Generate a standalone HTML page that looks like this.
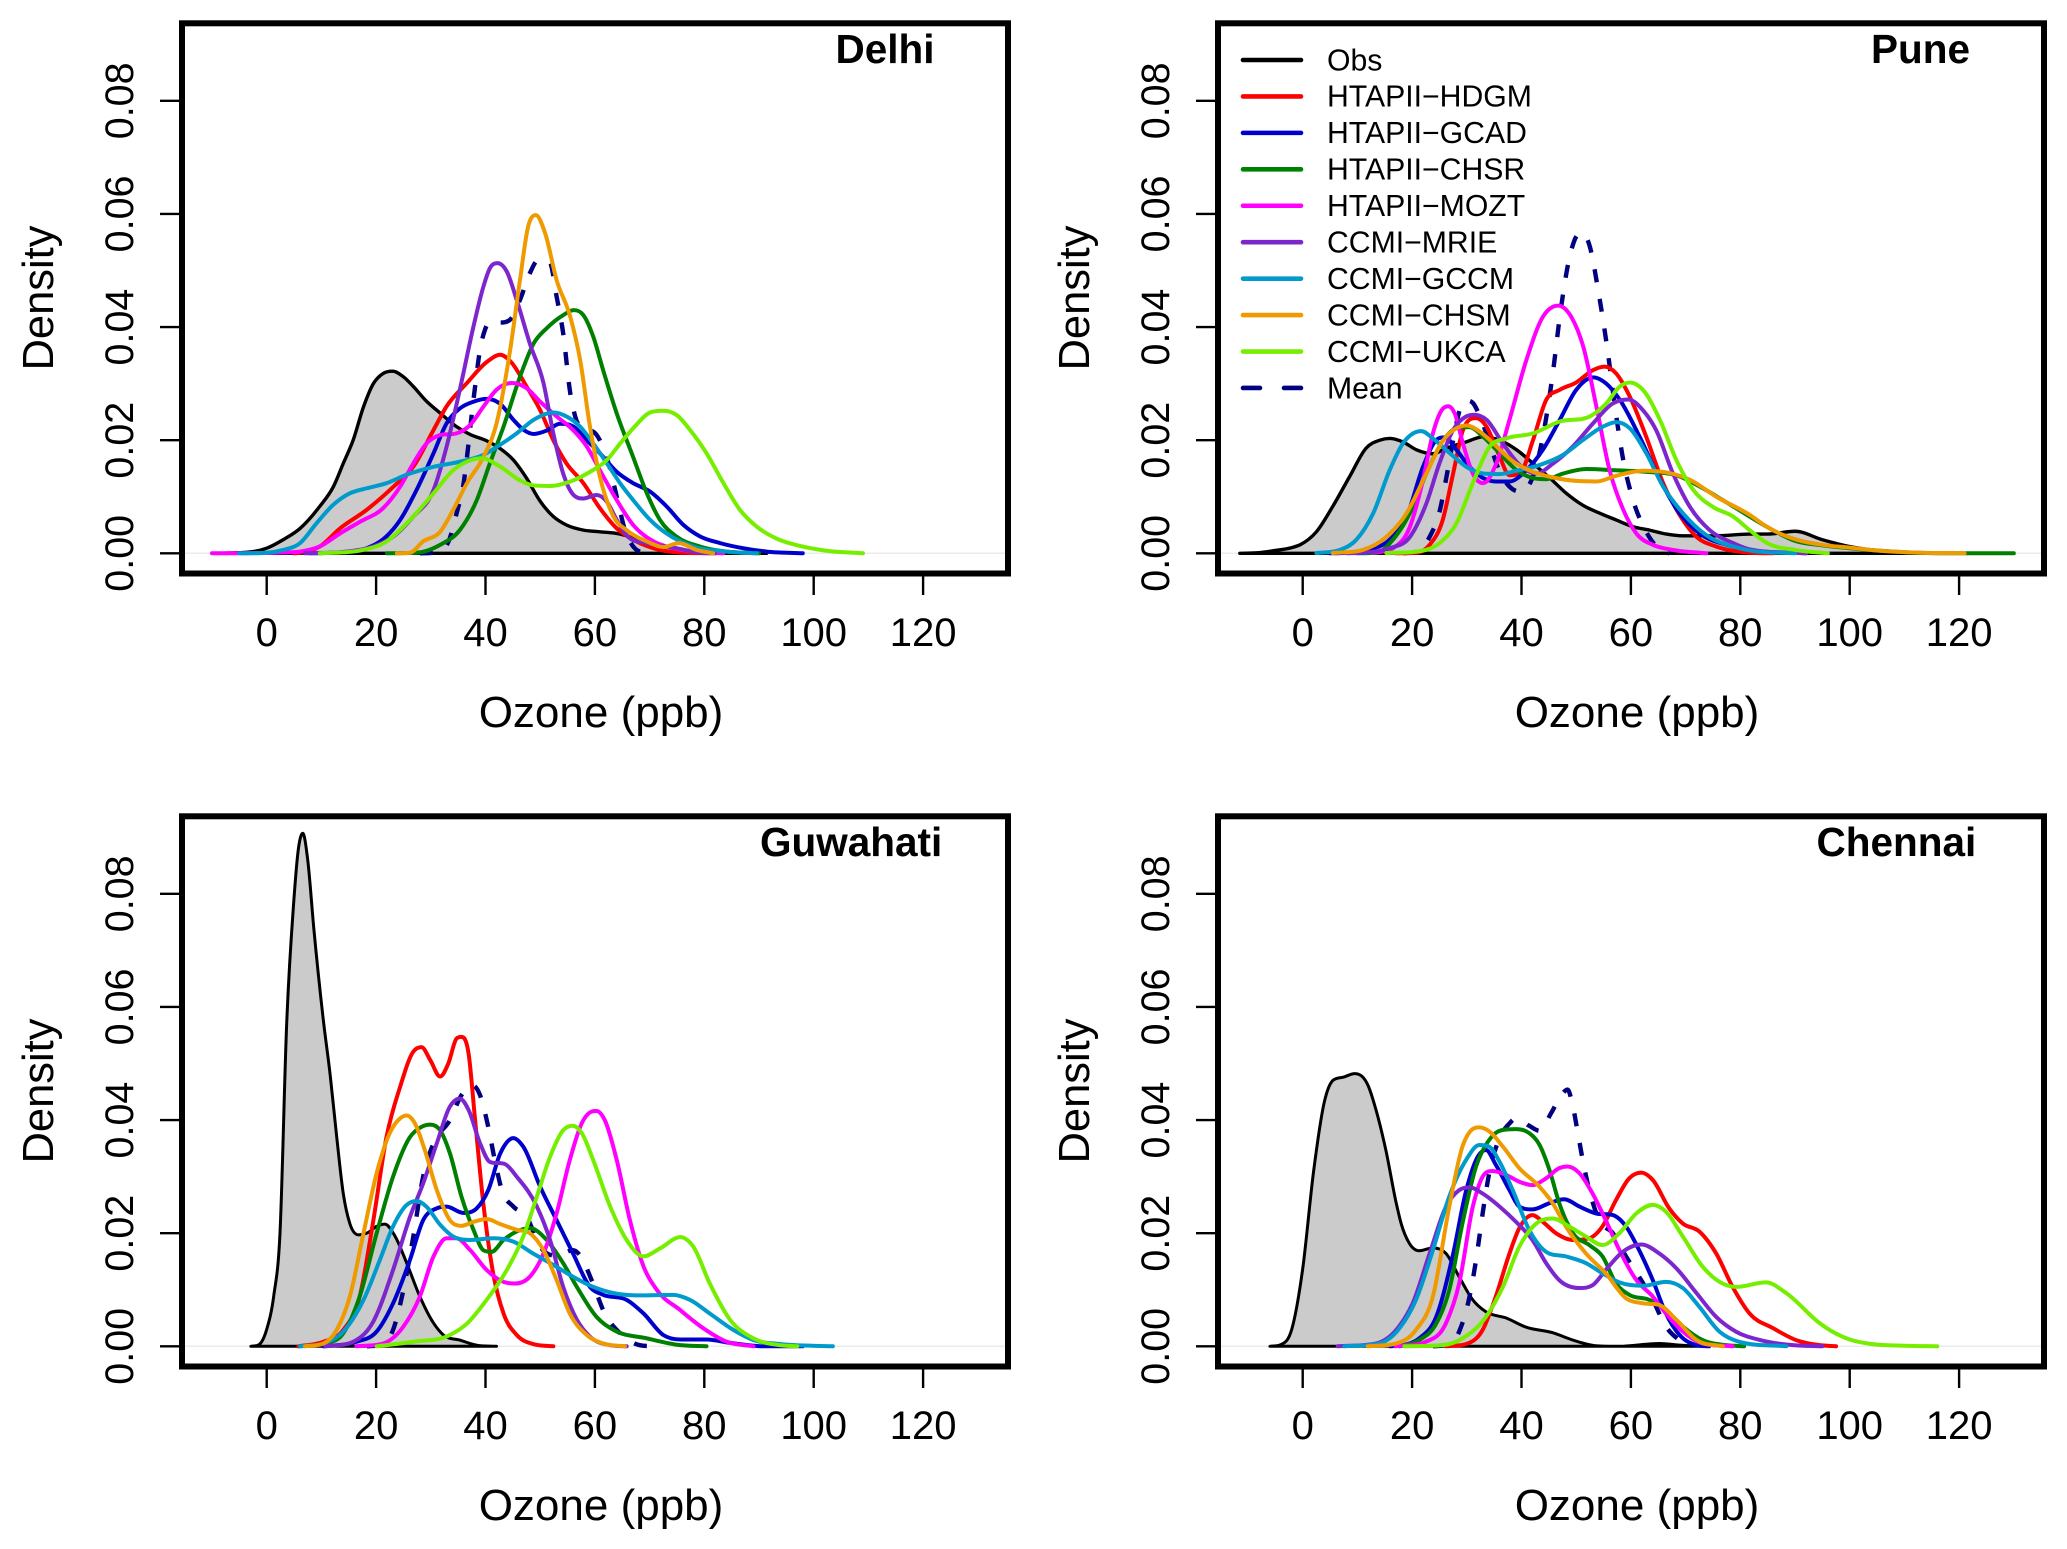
<!DOCTYPE html>
<html lang="en">
<head>
<meta charset="utf-8">
<title>Ozone density by city</title>
<style>
html,body{margin:0;padding:0;background:#fff}
svg{display:block;font-family:"Liberation Sans",sans-serif}
</style>
</head>
<body>
<svg id="figure" width="2067" height="1549" viewBox="0 0 2067 1549" xmlns="http://www.w3.org/2000/svg"></svg>
<script>
/* Density values are stored in units of 0.001; x values are ozone in ppb. */
const xTicks=[0,20,40,60,80,100,120];
const yTicks=[0,0.02,0.04,0.06,0.08];
const yTickLabels=['0.00','0.02','0.04','0.06','0.08'];
const xTitle='Ozone (ppb)';
const yTitle='Density';
const cities=['Delhi','Pune','Guwahati','Chennai'];
const seriesNames=['Obs','HTAPII\u2212HDGM','HTAPII\u2212GCAD','HTAPII\u2212CHSR','HTAPII\u2212MOZT','CCMI\u2212MRIE','CCMI\u2212GCCM','CCMI\u2212CHSM','CCMI\u2212UKCA','Mean'];

const delhiObs=[[-10,0],[-5,.1],[0,.9],[3,2.4],[6.1,4.4],[9.7,8.3],[12.2,11.8],[14,15.9],[15.8,20],[17.7,25.9],[19.5,30],[21.3,31.8],[23,32.2],[25,31.2],[26.8,29.5],[29,27.1],[31.7,24.8],[34.7,22.4],[37.2,21],[40.2,19.9],[42.7,18.5],[45.1,16.5],[47.5,13.3],[50,9.2],[52.4,6.5],[54.8,5],[57.9,4.1],[60.9,3.8],[64.6,3.4],[67,2.7],[70.1,1.2],[73.1,.3],[79.2,0],[91.4,0]];
const delhiHdgm=[[5,0],[6.1,.1],[9.7,1.2],[13.4,4.4],[18.3,7.7],[23.2,11.8],[26.8,15.3],[30.5,21.8],[32.9,26],[36.6,30.1],[40.2,33.8],[42.7,35.1],[44.5,34],[47.5,29.5],[50,25.3],[52.4,20],[54.8,15.9],[57.9,12.4],[60.9,8],[64,4.4],[67,2.4],[70.7,.9],[76.2,.1],[82,0]];
const delhiGcad=[[8,0],[12.2,.1],[18.3,.9],[21.9,3],[24.4,5.9],[27.4,11.2],[30.5,17.7],[32.9,23],[35.3,25.6],[37.8,26.8],[40.2,27.3],[42.7,26.4],[45.1,23.6],[47,21.8],[48.8,21.1],[51.2,21.7],[53.6,22.9],[56.1,22.4],[58.5,20],[60.9,17.7],[64,14.4],[67,12.4],[70.1,10.9],[73.1,8.3],[76.2,5],[79.2,3],[82.9,1.8],[87.1,.9],[91.4,.3],[98,0]];
const delhiChsr=[[22,0],[27.4,.1],[31.7,1.5],[35.3,4.1],[38.4,9.4],[40.8,15.9],[43.3,22.4],[46.3,31.2],[48.8,37.1],[51.2,39.8],[54.2,42.1],[56.1,43],[57.9,42.1],[59.7,38.3],[61.5,32.4],[64,24.7],[67,17],[69.5,10.6],[71.9,5.9],[75,2.9],[79.2,1.2],[85.3,.2],[90,0]];
const delhiMozt=[[-10,0],[0,.05],[3,.15],[6.1,.3],[9.7,1.2],[13.4,3.5],[17.1,5.6],[21.3,8],[24.4,11.8],[26.8,15.9],[29.2,19.4],[31.7,20.9],[34.7,21.2],[37.2,22.7],[39.6,25.9],[42,28.9],[44.8,30.1],[47.5,29.2],[50,26.8],[53,24.2],[56,21.8],[58.5,18.9],[60.9,14.7],[64,9.4],[67,5],[70.7,2.1],[74.3,.9],[79.2,.2],[83.5,0]];
const delhiMrie=[[7,0],[14.6,.3],[19.5,1.2],[23.2,3],[26.8,6.5],[30.5,11.2],[32.9,18.9],[35.3,28.9],[37.8,40.1],[39.6,47.1],[40.8,50.4],[42.2,51.3],[43.9,49.8],[45.7,44.8],[48.1,37.1],[50.6,30.1],[52.4,21.2],[54.2,14.1],[56.1,10.3],[57.9,9.7],[60.3,10.3],[62.2,9.1],[64,5.9],[65.8,3.2],[69.5,1.8],[75,.9],[79.2,.1],[82,0]];
const delhiGccm=[[-5,0],[0,.1],[3,.6],[6.1,1.8],[9.1,5.3],[12.2,8.6],[15.2,10.6],[18.3,11.5],[21.9,12.4],[25.6,13.9],[30.5,15.3],[35.3,16.2],[39.6,17.4],[42.7,19.2],[45.7,21.2],[48.8,23.6],[52.4,24.9],[54.8,24.2],[57.3,22.4],[59.7,19.4],[62.2,15.9],[64.6,12.4],[67,9.4],[70.1,5.9],[73.1,3.5],[78,1.2],[84.1,.3],[89.6,0]];
const delhiChsm=[[23.8,0],[26.2,.1],[28.6,2.1],[31.7,3.8],[34.1,7.7],[36.6,12.4],[39.6,17],[42,22.9],[44.5,35.9],[46.3,48.3],[47.8,57.8],[49.2,59.8],[50.9,56.6],[53,48.3],[55.5,41.8],[57.3,34.2],[59.1,22.4],[60.9,13.6],[63.4,6.5],[65.8,4.1],[69.5,2.1],[72.5,1.1],[75.3,1.8],[78.6,.6],[81.6,0]];
const delhiUkca=[[9.7,0],[17.1,.5],[21.9,2.1],[26.2,5.9],[30.5,10.6],[34.1,14.7],[36.6,16.2],[39.3,16.8],[42.7,15.3],[46.3,12.9],[48.8,12],[51.8,11.9],[55.5,12.7],[59.1,14.4],[62.2,16.5],[64.6,19.4],[67,22.1],[70.1,24.9],[72.5,25.2],[75,24.4],[77.4,21.8],[80.4,17.7],[83.5,12.4],[86.5,7.7],[89.6,4.7],[93.2,2.6],[97.5,1.3],[102,.5],[109,0]];
const delhiMean=[[28,0],[30.5,.1],[33.2,2],[34.7,7],[36,12.4],[36.9,19.4],[37.5,24.7],[38.1,29.5],[39,36],[39.9,39.5],[40.8,41],[42.7,40.8],[44.5,41.3],[46.3,44.8],[48.1,49.5],[49.7,51.9],[51.8,51.3],[53,45.4],[54.2,38.9],[55.5,28.3],[56.4,24.2],[57.9,21.8],[59.7,21.5],[60.9,20],[62.5,15.9],[64,10],[65.5,4.1],[67,1.2],[68.9,.1],[69.5,0]];

const puneObs=[[-11.5,0],[-8,.1],[-5,.5],[-2,1.0],[-.5,1.5],[2.5,3.8],[5.5,8.3],[8.6,13.6],[11.6,18.6],[14.1,20],[15.9,20.3],[18.3,19.7],[20.8,18.3],[23.8,17.6],[26.3,18.6],[29.9,19.7],[33,20.6],[36,20],[39.1,18.3],[42.1,15.9],[45.2,13.3],[48.2,10.6],[51.2,8.5],[54.3,7.1],[57.3,5.9],[60.4,4.7],[63.4,4.1],[66.5,3.4],[69.5,3.1],[75.6,3.1],[81.7,3.4],[85,3.4],[90,3.9],[95,2.4],[100,1.2],[105,.5],[110,.2],[115,.05],[122,0]];
const puneHdgm=[[17,0],[20.8,.1],[23.2,1.5],[25.6,5.9],[27.5,14.1],[29.3,21.8],[31.7,23.9],[33.6,22.4],[36,17.1],[37.8,13.8],[39.7,14.1],[42.1,20],[44.5,27.1],[47,28.9],[50,30.2],[53.1,32.4],[55.2,33],[57.3,31.8],[59.8,27.7],[62.8,20.6],[65.9,12.4],[68.9,6.8],[72,2.9],[75.6,1.2],[81.7,.1],[86,0]];
const puneGcad=[[5,0],[8.6,.1],[11.6,.6],[15.9,2.4],[19,6.5],[22,15.3],[24.4,20],[26,20.5],[28.1,18.3],[30.5,15.3],[33,13.3],[35.4,12.7],[37.8,12.7],[40.9,14.7],[43.9,18.3],[47,23.6],[50,28.9],[53.1,31.1],[55.5,30],[58,27.1],[61.6,20.6],[65.3,13],[68.9,7.1],[72.6,3.5],[77.5,1.5],[81.7,.6],[92,0]];
const puneChsr=[[10,0],[13.5,.1],[16.5,2.4],[19.6,7.1],[22.6,14.1],[25.7,20],[28.1,22.1],[30.5,22.3],[33,20.6],[36,17.7],[39.1,14.7],[42.1,13.3],[44.5,13.1],[47.6,14.1],[51.9,14.9],[56.7,14.7],[62.8,14.4],[68.3,13.8],[72.6,11.8],[76.8,9.4],[81.7,6.5],[85,4.6],[90,2.2],[95,1.4],[100,.9],[105,.5],[110,.2],[120,0],[130,0]];
const puneMozt=[[12.9,.1],[16.5,.9],[19.6,4.7],[22,13],[23.8,21.2],[25.4,25.3],[26.6,26],[27.8,24.7],[29.3,19.4],[31.1,14.1],[33,12.4],[35.4,15.9],[37.8,23.6],[40.9,34.2],[43.9,41.8],[46.7,43.8],[49.1,41.8],[51.3,36.5],[53.7,25.9],[56.1,14.7],[58.6,7.7],[61,3.5],[64,1.5],[67.7,.6],[73.8,0]];
const puneMrie=[[8,0],[11,.1],[15.9,.9],[19.6,2.9],[22.6,8.8],[25,15.9],[27.5,21.8],[29.9,24.2],[31.4,24.5],[33.6,23.6],[36.6,19.4],[39.7,15.6],[42.7,14.1],[45.8,15.9],[49.4,18.9],[53.1,23],[56.7,26.5],[59.5,27.2],[62.2,25.3],[64.6,21.8],[67.7,14.1],[70.8,8.2],[74.4,4.1],[78.7,1.8],[81.7,.7],[92,0]];
const puneGccm=[[2.5,.05],[6.8,.6],[9.8,2.4],[12.9,7.1],[15.9,14.7],[18.3,19.4],[20.2,21.2],[21.7,21.6],[23.8,20.3],[26.9,17.7],[29.9,15.3],[33,14.1],[36,14],[39.1,14.6],[43.3,15.6],[47.6,17.4],[51.2,20],[54.9,22.4],[57.3,23.2],[59.8,22.1],[62.8,17.7],[65.9,11.8],[69.5,7.1],[73.8,3.2],[78.7,1.2],[81.7,.5],[90,0]];
const puneChsm=[[5.5,.05],[11,.6],[15.3,2.9],[19,7.1],[22.6,14.1],[25.7,20],[28.1,22.1],[29.9,22.6],[32.4,21.5],[35.4,18.9],[38.5,16.2],[42.1,14.4],[45.8,13.4],[50,12.8],[53.7,12.7],[57.3,13.7],[62.2,14.6],[66.5,14.3],[70.8,13],[75.6,10],[81.7,6.8],[85,4.6],[90,2.5],[95,1.5],[100,1],[105,.5],[110,.2],[121,0]];
const puneUkca=[[15.3,.05],[20.8,.3],[25,1.8],[28.1,5.3],[31.1,12.4],[34.2,18.9],[37.2,20.3],[42.1,21.2],[47,23.3],[52.5,24.2],[55.5,26.5],[58,29.5],[59.8,30.2],[62.2,28.9],[65.3,23.6],[68.3,16.5],[71.4,11.2],[75,8.2],[78.7,6.5],[81.7,4.1],[85,1.75],[90,.6],[96,0]];
const puneMean=[[18.4,0],[20.8,.3],[23.2,2.9],[25.1,7.7],[26.3,13.6],[27.5,20],[28.7,25.3],[30,27],[31.1,26.6],[32.4,24.2],[34.2,19.4],[36,14.4],[37.8,11.8],[39.7,10.9],[42.1,13.6],[43.9,20.6],[45.8,32.4],[47,41.8],[48.8,52.4],[50,56],[51,56.7],[52.5,54.2],[54,46.6],[55.8,35.4],[57,26.5],[58.6,16.5],[60.4,9.4],[62.8,3.8],[66.5,.1],[67,0]];

const guwahatiObs=[[-2.9,0],[-1.4,.3],[0,3],[1.3,9],[2.43,20],[3.65,57],[4.9,78],[5.8,88],[6.6,90.7],[7.5,86],[8.6,74],[10.35,57.7],[11.6,48],[12.8,37],[14,27],[15.2,21.7],[16.8,19.7],[18.3,20],[20.1,21.2],[21.6,21.6],[23.5,19.4],[25.6,14.7],[28,8.8],[30.5,4.1],[32.3,2],[35.3,1.1],[38.4,.2],[42,0]];
const guwahatiHdgm=[[5.8,0],[10.4,.8],[14,2.9],[17,8.8],[19.5,22.3],[21.9,37],[24.4,45.9],[26.8,52.1],[28.3,52.9],[29.9,50.6],[31.7,47.7],[33.2,50],[34.7,54.4],[35.6,54.7],[36.9,51.8],[38.1,40],[39.6,25.3],[41.4,12.9],[43.3,5.8],[45.7,2],[48.7,.4],[52.4,0]];
const guwahatiGcad=[[10.4,0],[16.4,.8],[20.1,2.6],[23.1,7.6],[26.2,15.3],[28.6,22.3],[31.1,24.4],[32.9,24.7],[35.9,23.6],[38.4,24.4],[40.5,27.6],[42.7,34.1],[45.1,36.8],[46.9,35.3],[50,28.2],[53,22.3],[56,16.4],[59.1,10.5],[61.5,9.1],[65.8,8.2],[68.9,5.8],[72.5,2],[75.6,1.2],[80.4,1.2],[84.7,.6],[90.8,0],[98,0]];
const guwahatiChsr=[[6.1,0],[10.4,.5],[14,2.3],[17,8.8],[20.1,20],[23.1,30],[26.2,37],[28.3,38.8],[29.9,39.2],[31.7,38.2],[33.5,34.1],[35.6,26.5],[37.8,20.6],[39.6,17],[41.1,16.7],[43.3,18.8],[45.7,20.3],[48.1,20.9],[51.2,18.8],[54.2,14.7],[56.7,10.5],[60.3,5.2],[63.4,2.9],[69.5,1.4],[75.6,.2],[80.4,0]];
const guwahatiMozt=[[16.4,0],[21.3,.5],[25,3.5],[28,8.8],[30.5,15.9],[32.9,19.1],[34.7,19.1],[37.2,17],[40.2,13.5],[43.3,11.4],[45.4,11.1],[48.1,12.3],[50.6,16.4],[53,23.5],[55.4,32.9],[57.9,40],[59.4,41.5],[60.3,41.6],[61.8,40],[64,32.9],[66.4,22.3],[68.9,14.1],[71.3,10],[75.6,6.4],[79.8,3.2],[84.1,.8],[89,0]];
const guwahatiMrie=[[10.7,0],[15.8,.8],[19.5,4.4],[23.1,13.5],[26.2,22.9],[28.6,28.8],[31.1,35.9],[33.5,42.4],[35.3,43.8],[36.9,41.8],[39,35.9],[40.8,32.6],[43.6,32.2],[45.7,30],[49.4,24.7],[51.8,18.8],[54.2,10.5],[56.7,4.7],[59.1,1.7],[62.8,.2],[65.8,0]];
const guwahatiGccm=[[6.1,0],[10.4,.5],[14,2.6],[17.7,8.2],[20.7,15.3],[23.1,21.2],[25.6,25],[27.4,25.7],[29.2,24.7],[31.7,21.5],[34.1,19.4],[37.2,18.8],[41.4,19.1],[45.1,18.5],[48.7,16.4],[52.4,14.4],[56,12.3],[59.7,10.5],[63.4,9.4],[68.2,9],[74.3,9.1],[77.4,8.2],[81,5.8],[85.3,2.9],[89,1.1],[93.8,.4],[103.5,0]];
const guwahatiChsm=[[7,0],[10.4,.5],[12.8,2.9],[15.2,8.8],[17.7,20],[20.1,30.6],[22.5,37.7],[24.4,40.3],[25.6,40.8],[27.1,39.4],[28.9,34.7],[31.1,27.6],[33.5,22.3],[35.6,21.3],[37.8,22],[40.2,22.5],[42.7,21.6],[45.7,20.6],[48.1,20],[50.6,17],[53,11.7],[55.4,5.8],[58.5,2],[61.5,.5],[65.5,0]];
const guwahatiUkca=[[20.1,0],[26.8,.8],[33.5,2],[36.6,4],[40.2,8.2],[43.9,13.5],[46.9,19.4],[49.4,26.5],[51.8,33.5],[54.2,38.2],[55.9,39],[57.6,37.7],[59.7,32.9],[62.8,24.7],[65.8,18.8],[68.9,15.9],[71.9,17.3],[75.6,19.3],[78,17.6],[81,11.1],[84.7,4.7],[89,1.4],[93.8,.2],[97,0]];
const guwahatiMean=[[18.3,0],[20.7,.2],[23.1,2.9],[25,10],[26.8,19.4],[28.6,30],[30.5,35.9],[33.5,40],[35.6,44.4],[37.5,46.2],[39,44.4],[40.5,38.8],[41.7,32.9],[43,27.6],[45.1,24.7],[47.5,22.9],[50,17.6],[53,16],[56,17],[57.6,15.6],[59.4,11.7],[61.8,5.8],[64.6,2.3],[68.2,.2],[71,0]];

const chennaiObs=[[-6,0],[-4,.3],[-2,3],[0,13.7],[2,31],[4,43.4],[5.5,47],[7.5,47.6],[9.5,48.2],[12,46],[13.4,41.8],[15.2,34.7],[17.1,25.3],[18,21.7],[19.5,18.2],[21.3,16.9],[23.8,17.4],[26.2,16.4],[28.6,12.3],[31.1,8.2],[33.5,6.1],[37.2,5],[40.8,3.4],[45.7,2.4],[49.4,1.1],[53.6,.1],[57.9,0],[65.2,.5],[68.9,.2],[73.1,0]];
const chennaiHdgm=[[26.2,0],[29.9,.4],[32.9,2.9],[35.3,8.8],[37.8,16.4],[39.6,20.9],[42,23.2],[43.9,22],[46.3,20],[49.4,18.8],[52.4,19.1],[54.8,21.2],[57.3,25.9],[59.7,29.7],[61.9,30.7],[64,29.4],[67,24.4],[69.5,21.7],[72.5,20.3],[75.6,16.4],[78.6,10.5],[81.7,5.8],[86,3.2],[90.2,1.1],[94.5,.2],[97.5,0]];
const chennaiGcad=[[16,0],[18.3,.2],[21.3,1.4],[24.4,5.2],[27.4,15.9],[29.9,27.6],[32,33.5],[33.5,34.7],[35.3,32.1],[37.8,27.6],[39.6,24.7],[42,24.2],[45.1,25.3],[47.8,26],[50.6,24.7],[53.6,23.5],[56.7,23.2],[59.1,21.2],[61.5,17],[64,11.7],[66.4,5.8],[68.9,2],[72,.2],[74.3,0]];
const chennaiChsr=[[17.7,0],[21.3,1.1],[24.4,4],[26.8,10],[29.2,21.7],[31.7,31.8],[34.1,36.5],[36.3,38.2],[39,38.4],[41.4,37.7],[43.3,35.6],[45.1,31.2],[46.9,25.3],[49.4,20],[52.4,17.9],[54.8,15.9],[57.3,11.1],[59.7,9.1],[63.4,8.2],[66.4,6.4],[69.5,3.5],[73.1,1.1],[77.4,.2],[80.7,0]];
const chennaiMozt=[[17,0],[22.5,.8],[26.2,4.1],[28.6,11.1],[31.1,24.7],[32.9,30],[34.7,31],[37.2,30.3],[39.6,29.1],[42,28.5],[44.5,29.7],[46.9,31.5],[48.4,31.8],[50.6,30.6],[53,27],[55.4,22.3],[57.9,17],[61,11.7],[64,8.8],[66.4,5.8],[69.5,2.6],[73.1,.5],[78.6,0]];
const chennaiMrie=[[6.4,0],[13.4,.5],[17.1,2.9],[20.1,7.6],[23.2,16.4],[26.2,24.7],[28.6,27.6],[30.5,28.1],[32.9,27],[36,24.7],[39,22],[42,18.8],[44.5,14.7],[46.9,11.7],[50.6,10.3],[53,10.8],[55.4,13.5],[58.5,16.7],[61.9,18],[65.2,16.4],[68.3,13.8],[72,9.4],[75.6,5.2],[79.2,2.6],[84.1,1],[89.6,.2],[95,0]];
const chennaiGccm=[[7.6,0],[14,.5],[17.7,3.2],[20.7,8.2],[23.8,17],[26.8,26.5],[29.9,33],[32.3,35.6],[34.1,35.3],[36,32.6],[38.4,27.6],[41.4,20.6],[44.5,16.7],[48.1,15.9],[51.8,14.7],[54.8,12.9],[57.9,11.3],[62.2,10.7],[66.4,11.4],[69.5,10.3],[72.5,7],[76.2,2.6],[79.8,.8],[88.4,0]];
const chennaiChsm=[[11.9,0],[17.1,.5],[20.7,2.9],[23.8,8.8],[26.8,24.7],[29.2,35.3],[30.8,38.2],[32.3,38.7],[34.1,38],[36.6,35.3],[39.6,31.5],[43.3,28.2],[45.7,25.3],[48.1,21.2],[51.8,16.4],[55.4,12.9],[59.1,8.5],[62.2,7.6],[65.2,7.3],[68.3,4.7],[72,1.1],[76.8,0]];
const chennaiUkca=[[18.6,0],[25.6,.2],[29.2,1.4],[33.5,5.2],[36.6,10.5],[39.6,17.6],[42.7,21.7],[45.7,22.6],[48.7,21.2],[51.8,19.4],[54.8,17.9],[57.9,20],[61,23.5],[64,25],[66.4,23.8],[69.5,19.4],[73.1,14.1],[76.2,11.4],[79.2,10.5],[84.7,11.3],[88.4,9.4],[94.5,4.1],[97,2.5],[100,1.2],[104,.4],[110,.1],[116,0]];
const chennaiMean=[[23.8,0],[25.9,.2],[28.6,2.6],[30.5,8.8],[31.7,15.3],[32.9,23.5],[34.1,30.6],[35.6,35.9],[37.8,39.4],[39,40.3],[41.4,39],[43.3,38.1],[45.4,41.2],[47.5,44.7],[48.4,45.4],[49.4,42.4],[50.3,37.7],[51.2,32.9],[52.4,27.6],[54.2,22.3],[56.7,20],[59.1,15.9],[61.5,12.3],[64,8.2],[66.4,3.5],[68.9,1.1],[71.3,0]];

const delhiLines=[delhiObs,delhiHdgm,delhiGcad,delhiChsr,delhiMozt,delhiMrie,delhiGccm,delhiChsm,delhiUkca,delhiMean];
const puneLines=[puneObs,puneHdgm,puneGcad,puneChsr,puneMozt,puneMrie,puneGccm,puneChsm,puneUkca,puneMean];
const guwahatiLines=[guwahatiObs,guwahatiHdgm,guwahatiGcad,guwahatiChsr,guwahatiMozt,guwahatiMrie,guwahatiGccm,guwahatiChsm,guwahatiUkca,guwahatiMean];
const chennaiLines=[chennaiObs,chennaiHdgm,chennaiGcad,chennaiChsr,chennaiMozt,chennaiMrie,chennaiGccm,chennaiChsm,chennaiUkca,chennaiMean];
const cityLines=[delhiLines,puneLines,guwahatiLines,chennaiLines];

const NS='http://www.w3.org/2000/svg';
const svg=document.getElementById('figure');
const colors=['#000000','#ff0000','#0000cd','#008000','#ff00ff','#7d26cd','#009acd','#ee9a00','#76ee00','#000080'];
const drawOrder=[9,1,2,3,4,5,6,7,8];
const offsetX=[0,1036,0,1036];
const offsetY=[0,0,793,793];
const titleX=[835.5,835,760,780.5];

function make(tag,attrs,parent){
  const el=document.createElementNS(NS,tag);
  for(const k in attrs){el.setAttribute(k,attrs[k]);}
  parent.appendChild(el);
  return el;
}
function smoothPath(pts,sx,sy){
  const P=pts.map(p=>[sx(p[0]),sy(p[1])]);
  const n=P.length;
  const d=[],m=[];
  for(let i=0;i<n-1;i++){d.push((P[i+1][1]-P[i][1])/(P[i+1][0]-P[i][0]));}
  for(let i=0;i<n;i++){
    if(i===0){m.push(d[0]);}
    else if(i===n-1){m.push(d[n-2]);}
    else if(d[i-1]*d[i]<=0){m.push(0);}
    else{
      const h0=P[i][0]-P[i-1][0],h1=P[i+1][0]-P[i][0];
      const pp=(d[i-1]*h1+d[i]*h0)/(h0+h1);
      const lim=3*Math.min(Math.abs(d[i-1]),Math.abs(d[i]));
      m.push(Math.sign(pp)*Math.min(Math.abs(pp),lim));
    }
  }
  let out='M'+P[0][0].toFixed(2)+','+P[0][1].toFixed(2);
  for(let i=0;i<n-1;i++){
    const h=(P[i+1][0]-P[i][0])/3;
    out+='C'+(P[i][0]+h).toFixed(2)+','+(P[i][1]+m[i]*h).toFixed(2)+' '+(P[i+1][0]-h).toFixed(2)+','+(P[i+1][1]-m[i+1]*h).toFixed(2)+' '+P[i+1][0].toFixed(2)+','+P[i+1][1].toFixed(2);
  }
  return out;
}
function key(s){return s.toLowerCase().replace(/[^a-z0-9]+/g,'-');}

cities.forEach(function(city,idx){
  const ox=offsetX[idx],oy=offsetY[idx];
  const lines=cityLines[idx];
  const sx=v=>ox+266.7+v*5.47;
  const sy=v=>oy+553.3-v*5.656;      /* v in 0.001 density units */
  const syTick=v=>sy(v*1000);
  const slug=key(city);
  const g=make('g',{},svg);
  
  

  const zero=make('line',{x1:ox+185,x2:ox+1005,y1:sy(0),y2:sy(0),stroke:'#ebebeb','stroke-width':1.5},g);
  
  

  const obs=make('path',{d:smoothPath(lines[0],sx,sy)+'Z',fill:'#cbcbcb',stroke:'#000',
    'stroke-width':idx<2?3.4:3,'stroke-linejoin':'round'},g);
  
  

  drawOrder.forEach(function(i){
    const attrs={d:smoothPath(lines[i],sx,sy),fill:'none',stroke:colors[i],'stroke-width':i===9?4.4:4,'stroke-linecap':i===9?'butt':'round','stroke-linejoin':'round'};
    if(i===9){attrs['stroke-dasharray']='13 17';}
    const p=make('path',attrs,g);
    
    
  });

  const box=make('rect',{x:ox+182,y:oy+23.3,width:826,height:550.2,fill:'none',stroke:'#000','stroke-width':6},g);
  
  

  xTicks.forEach(function(t){
    const tick=make('line',{x1:sx(t),x2:sx(t),y1:oy+576,y2:oy+595,stroke:'#000','stroke-width':2.4},g);
    
    
    const lab=make('text',{x:sx(t),y:oy+646,'font-size':40,'text-anchor':'middle',fill:'#000'},g);
    lab.textContent=String(t);
    
    
  });
  yTicks.forEach(function(t,i){
    const y=syTick(t);
    const tick=make('line',{x1:ox+160,x2:ox+179,y1:y,y2:y,stroke:'#000','stroke-width':2.4},g);
    
    
    const lab=make('text',{transform:'translate('+(ox+133)+','+y+') rotate(-90)','font-size':39.5,'text-anchor':'middle',fill:'#000'},g);
    lab.textContent=yTickLabels[i];
    
    
  });

  const xt=make('text',{x:ox+601,y:oy+727,'font-size':44,'text-anchor':'middle',fill:'#000'},g);
  xt.textContent=xTitle;
  
  

  const yt=make('text',{transform:'translate('+(ox+53)+','+(oy+298)+') rotate(-90)','font-size':43.5,'text-anchor':'middle',fill:'#000'},g);
  yt.textContent=yTitle;
  
  

  const ct=make('text',{x:ox+titleX[idx],y:oy+63,'font-size':40.5,'font-weight':'bold',fill:'#000'},g);
  ct.textContent=city;
  
  
});

const legend=make('g',{},svg);


seriesNames.forEach(function(name,i){
  const y=60+i*36.44;
  const attrs={x1:1243,x2:1301,y1:y,y2:y,stroke:colors[i],'stroke-width':4.6,'stroke-linecap':'round'};
  if(i===9){attrs['stroke-dasharray']='17 24';}
  const ln=make('line',attrs,legend);
  
  
  const tx=make('text',{x:1327,y:y+10.3,'font-size':30.2,fill:'#000'},legend);
  tx.textContent=name;
  
  
});
</script>
</body>
</html>
